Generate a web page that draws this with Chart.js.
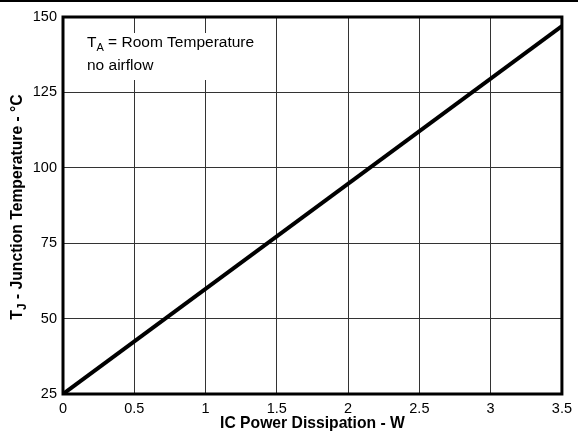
<!DOCTYPE html>
<html><head><meta charset="utf-8">
<script src="https://cdn.jsdelivr.net/npm/chart.js@4"></script>
<style>
html,body{margin:0;padding:0;background:#fff;}
body{width:578px;height:435px;overflow:hidden;position:relative;}
#topline{position:absolute;left:0;top:0;width:578px;height:2px;background:#000;}
canvas{position:absolute;left:0;top:0;}
</style></head><body>
<div id="topline"></div>
<canvas id="c" width="578" height="435"></canvas>
<script>
const powerW = [0, 3.5];
const junctionTempC = [25, 147];
const xTicks = [0, 0.5, 1, 1.5, 2, 2.5, 3, 3.5];
const yTicks = [25, 50, 75, 100, 125, 150];
const FONT = '"Liberation Sans", Arial, sans-serif';

const points = powerW.map((x, i) => ({x: x, y: junctionTempC[i]}));

const overlay = {
  id: 'overlay',
  beforeDatasetsDraw(chart) {
    const ctx = chart.ctx;
    const a = chart.chartArea;
    ctx.save();
    ctx.fillStyle = '#fff';
    ctx.fillRect(a.left + 4, 33, 200, 47);
    ctx.fillStyle = '#000';
    ctx.textBaseline = 'alphabetic';
    ctx.textAlign = 'left';
    ctx.font = '15.5px ' + FONT;
    let x = 87, y = 47;
    ctx.fillText('T', x, y);
    x += ctx.measureText('T').width;
    ctx.font = '11px ' + FONT;
    ctx.fillText('A', x, y + 4);
    x += ctx.measureText('A').width;
    ctx.font = '15.5px ' + FONT;
    ctx.fillText(' = Room Temperature', x, y);
    ctx.fillText('no airflow', 87, 70);
    ctx.restore();
  },
  afterDatasetsDraw(chart) {
    const ctx = chart.ctx;
    const a = chart.chartArea;
    ctx.save();
    ctx.strokeStyle = '#000';
    ctx.lineWidth = 3;
    ctx.strokeRect(a.left, a.top, a.right - a.left, a.bottom - a.top);
    ctx.translate(18, 207);
    ctx.rotate(-Math.PI / 2);
    ctx.fillStyle = '#000';
    ctx.textBaseline = 'middle';
    ctx.textAlign = 'left';
    const big = 'bold 15.7px ' + FONT, small = 'bold 12px ' + FONT;
    ctx.font = big; const wT = ctx.measureText('T').width;
    ctx.font = small; const wJ = ctx.measureText('J').width;
    ctx.font = big; const rest = ' - Junction Temperature - °C'; const wR = ctx.measureText(rest).width;
    let x = -(wT + wJ + wR) / 2;
    ctx.fillText('T', x, 0); x += wT;
    ctx.font = small; ctx.fillText('J', x, 5); x += wJ;
    ctx.font = big; ctx.fillText(rest, x, 0);
    ctx.restore();
  }
};

new Chart(document.getElementById('c'), {
  type: 'scatter',
  data: {
    datasets: [{
      data: points,
      showLine: true,
      borderColor: '#000',
      borderWidth: 4,
      pointRadius: 0,
      fill: false
    }]
  },
  options: {
    responsive: false,
    animation: false,
    layout: {padding: {left: 0, right: 12, top: 17, bottom: 0}},
    plugins: {legend: {display: false}, tooltip: {enabled: false}},
    scales: {
      x: {
        type: 'linear', min: 0, max: 3.5,
        afterBuildTicks(s) { s.ticks = xTicks.map(v => ({value: v})); },
        afterFit(s) { s.height = 41; },
        grid: {color: '#333', lineWidth: 1, drawTicks: false},
        border: {display: false},
        ticks: {
          color: '#000', font: {family: FONT, size: 14.5}, padding: 6,
          maxRotation: 0, autoSkip: false,
          callback: v => String(v)
        },
        title: {display: true, text: 'IC Power Dissipation - W', color: '#000',
          font: {family: FONT, size: 15.7, weight: 'bold'}, padding: {top: 0, bottom: 2}}
      },
      y: {
        type: 'linear', min: 25, max: 150,
        afterBuildTicks(s) { s.ticks = yTicks.map(v => ({value: v})); },
        afterFit(s) { s.width = 63; },
        grid: {color: '#333', lineWidth: 1, drawTicks: false},
        border: {display: false},
        ticks: {color: '#000', font: {family: FONT, size: 14.5}, padding: 6,
          callback: v => String(v)}
      }
    }
  },
  plugins: [overlay]
});
</script>
</body></html>
